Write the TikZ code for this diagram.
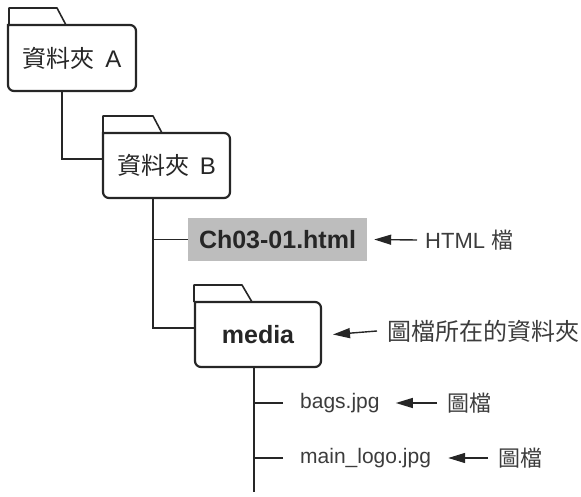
\documentclass[tikz,border=0pt]{standalone}
\usepackage{fontspec}
\setmainfont{Liberation Sans}
\newfontfamily\cjk{Noto Sans CJK TC}
\usetikzlibrary{arrows.meta}
\definecolor{ink}{HTML}{262626}
\definecolor{soft}{HTML}{3C3C3C}
\definecolor{boxgray}{HTML}{BDBDBD}
\begin{document}
\begin{tikzpicture}[x=1pt,y=-1pt,
  folder/.style={inner sep=0pt,outer sep=0pt,text=ink,minimum width=#1,minimum height=65pt},
  bodyline/.style={draw=ink,line width=2.2pt,rounded corners=6pt,line cap=rect},
  tabline/.style={draw=ink,line width=1.6pt,line join=round},
  conn/.style={draw=ink,line width=1.4pt},
  arr/.style={draw=ink,line width=1.4pt,-{Triangle[length=17pt,width=10pt]}},
  chbox/.style={fill=boxgray,text=ink,inner sep=0pt,minimum width=179pt,minimum height=43pt,
    font=\fontsize{25}{30}\selectfont\bfseries},
  note/.style={anchor=west,inner sep=0pt,text=soft},
  filelab/.style={anchor=west,inner sep=0pt,text=soft,font=\fontsize{21}{25}\selectfont}
]
\useasboundingbox (0,0) rectangle (581,497);

% folder A
\node[folder=128pt,minimum height=66pt,font=\fontsize{24}{29}\selectfont] (A) at (72,58) {{\cjk 資料夾}\hspace{0.45em}A};
\draw[bodyline] (A.north west) -- (A.north east) -- (A.south east) -- (A.south west) -- (A.north west);
\draw[tabline] ([xshift=1pt]A.north west) -- ++(0,-17) -- ++(48,0) -- ++(9,17);

% folder B
\node[folder=127pt,font=\fontsize{24}{29}\selectfont] (B) at (166.5,165.5) {{\cjk 資料夾}\hspace{0.45em}B};
\draw[bodyline] (B.north west) -- (B.north east) -- (B.south east) -- (B.south west) -- (B.north west);
\draw[tabline] (B.north west) -- ++(0,-17) -- ++(50,0) -- ++(9,17);

% media folder
\node[folder=126pt,font=\fontsize{25}{30}\selectfont\bfseries] (M) at (258,334.5) {media};
\draw[bodyline] (M.north west) -- (M.north east) -- (M.south east) -- (M.south west) -- (M.north west);
\draw[tabline] ([xshift=-1pt]M.north west) -- ++(0,-17) -- ++(48,0) -- ++(10,17);

% html file
\node[chbox] (ch) at (277.5,239.5) {Ch03-01.html};

% image files
\node[filelab] (bags) at (300,403) {bags.jpg};
\node[filelab] (logo) at (300,458) {main\_logo.jpg};

% notes
\node[note,font=\fontsize{22}{26}\selectfont] (n1) at (425,240) {HTML {\cjk 檔}};
\node[note,font=\fontsize{24}{28}\selectfont\cjk] (n2) at (387,331) {圖檔所在的資料夾};
\node[note,font=\fontsize{22}{26}\selectfont\cjk] (n3) at (447,403) {圖檔};
\node[note,font=\fontsize{22}{26}\selectfont\cjk] (n4) at (498,458) {圖檔};

% tree connectors
\draw[conn] ([xshift=54pt]A.south west) |- ([yshift=6.5pt]B.west);
\coordinate (bj) at ([xshift=50pt]B.south west);
\draw[conn] (bj) |- ([yshift=6.5pt]M.west);
\draw[conn] (ch.west) -- (ch.west -| bj);
\coordinate (mj) at ([xshift=59pt]M.south west);
\coordinate (mend) at (254,492);
\draw[conn] (mj) -- (mend);
\draw[conn] ([xshift=-17pt]bags.west) -- (bags.west -| mj);
\draw[conn] ([xshift=-17pt]logo.west) -- (logo.west -| mj);

% note arrows
\draw[arr] ([xshift=-8pt]n1.west) -- ([xshift=7pt]ch.east);
\draw[arr] ([xshift=-10pt]n2.west) -- ([xshift=12pt]M.east);
\draw[arr] ([xshift=-10pt]n3.west) -- ([xshift=16pt]bags.east);
\draw[arr] ([xshift=-10pt]n4.west) -- ([xshift=17pt]logo.east);
\end{tikzpicture}
\end{document}
